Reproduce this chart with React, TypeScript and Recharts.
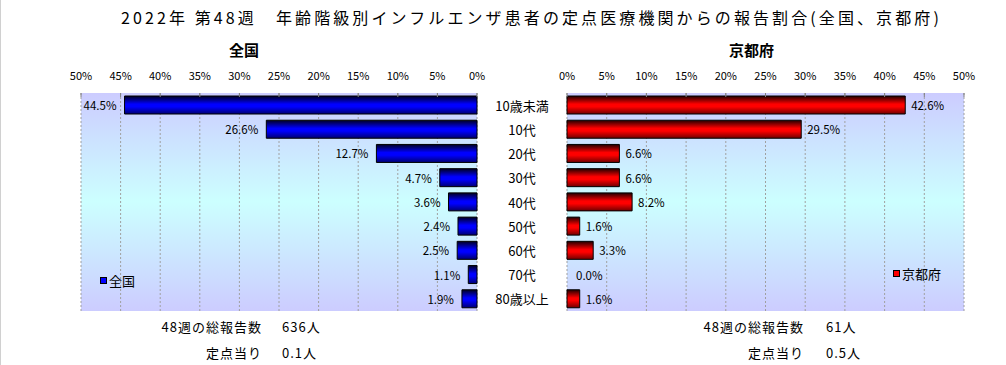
import { Bar, BarChart, CartesianGrid, LabelList, Legend, Rectangle, ReferenceArea, XAxis, YAxis } from "recharts"

const ageGroups = ["10歳未満", "10代", "20代", "30代", "40代", "50代", "60代", "70代", "80歳以上"]
const nationalShare = [44.5, 26.6, 12.7, 4.7, 3.6, 2.4, 2.5, 1.1, 1.9]
const kyotoShare = [42.6, 29.5, 6.6, 6.6, 8.2, 1.6, 3.3, 0.0, 1.6]
const percentTicks = [0, 5, 10, 15, 20, 25, 30, 35, 40, 45, 50]

const summaryLabels = ["48週の総報告数", "定点当り"]
const nationalSummary = ["636人", "0.1人"]
const kyotoSummary = ["61人", "0.5人"]

const data = ageGroups.map((age, i) => ({ age, national: nationalShare[i], kyoto: kyotoShare[i] }))

const FONT = '"Noto Sans CJK JP", "Noto Sans", sans-serif'

const CategoryTick = ({ x, y, payload }: any) => (
  <text x={x} y={y} textAnchor="middle" dominantBaseline="central" fontSize={13} fill="#000" fontFamily={FONT}>
    {payload.value}
  </text>
)

const LeftValueLabel = (props: any) => {
  const { x, y, width, height, value } = props
  const left = Math.min(Number(x), Number(x) + Number(width))
  return (
    <text x={left - 8} y={Number(y) + Number(height) / 2} textAnchor="end" dominantBaseline="central" fontSize={11.5} fill="#000" fontFamily={FONT}>
      {Number(value).toFixed(1)}%
    </text>
  )
}

const RightValueLabel = (props: any) => {
  const { x, y, width, height, value } = props
  const right = Math.max(Number(x), Number(x) + Number(width))
  const gap = Number(value) === 0 ? 8 : 6
  return (
    <text x={right + gap} y={Number(y) + Number(height) / 2} textAnchor="start" dominantBaseline="central" fontSize={11.5} fill="#000" fontFamily={FONT}>
      {Number(value).toFixed(1)}%
    </text>
  )
}

// zero-valued bars are kept (minPointSize) so their label shows, but drawn as nothing
const KyotoShape = (props: any) =>
  props.payload && props.payload.kyoto === 0 ? <g /> : <Rectangle {...props} />

const legendBox = (name: string, color: string) => () => (
  <div style={{ display: "flex", alignItems: "center", fontSize: 13, color: "#000", fontFamily: FONT, whiteSpace: "nowrap" }}>
    <span style={{ display: "inline-block", width: 5, height: 5, background: color, border: "1px solid #000", marginRight: 2 }} />
    {name}
  </div>
)

const Defs = () => (
  <defs>
    <linearGradient id="plotBg" x1="0" y1="0" x2="0" y2="1">
      <stop offset="0%" stopColor="#ccccff" />
      <stop offset="50%" stopColor="#ccffff" />
      <stop offset="100%" stopColor="#ccccff" />
    </linearGradient>
    <linearGradient id="blueBar" x1="0" y1="0" x2="0" y2="1">
      <stop offset="0%" stopColor="#000020" />
      <stop offset="45%" stopColor="#0000ff" />
      <stop offset="60%" stopColor="#0000ff" />
      <stop offset="100%" stopColor="#000070" />
    </linearGradient>
    <linearGradient id="redBar" x1="0" y1="0" x2="0" y2="1">
      <stop offset="0%" stopColor="#200000" />
      <stop offset="45%" stopColor="#ff0000" />
      <stop offset="60%" stopColor="#ff0000" />
      <stop offset="100%" stopColor="#700000" />
    </linearGradient>
  </defs>
)

const abs = (left: number, top: number) => ({ position: "absolute" as const, left, top, whiteSpace: "nowrap" as const, lineHeight: 1 })

export default function App() {
  return (
    <div style={{ position: "absolute", left: 0, top: 0, width: 1006, height: 365, background: "#fff", fontFamily: FONT, color: "#000", borderLeft: "1px solid #d0d0d0", boxSizing: "border-box" }}>
      <div style={{ ...abs(120, 9), fontSize: 16, letterSpacing: 3.1 }}>
        2022年 第48週　年齢階級別インフルエンザ患者の定点医療機関からの報告割合(全国、京都府)
      </div>
      <div style={{ ...abs(228, 42), fontSize: 15, fontWeight: "bold" }}>全国</div>
      <div style={{ ...abs(728, 42), fontSize: 15, fontWeight: "bold" }}>京都府</div>

      <div style={{ position: "absolute", left: 0, top: 0 }}>
        <BarChart width={566} height={365} data={data} layout="vertical" margin={{ top: 73, right: 0, bottom: 54, left: 80 }}>
          <Defs />
          <CartesianGrid horizontal={false} stroke="#a0a0a0" strokeDasharray="2 2" fill="url(#plotBg)" fillOpacity={1} />
          <XAxis
            type="number"
            domain={[0, 50]}
            ticks={percentTicks}
            reversed
            orientation="top"
            height={20}
            axisLine={false}
            tickLine={{ stroke: "#808080" }}
            tickSize={-4}
            tickMargin={17}
            tick={{ fill: "#000", fontSize: 11, fontFamily: FONT }}
            tickFormatter={(v) => `${v}%`}
          />
          <YAxis
            type="category"
            dataKey="age"
            orientation="right"
            width={90}
            interval={0}
            axisLine={false}
            tickLine={false}
            tickSize={0}
            tickMargin={45}
            tick={<CategoryTick />}
          />
          <Bar dataKey="national" name="全国" fill="url(#blueBar)" stroke="#000" strokeWidth={1} barSize={18} isAnimationActive={false}>
            <LabelList dataKey="national" content={<LeftValueLabel />} />
          </Bar>
          <ReferenceArea fill="none" stroke="#808080" strokeWidth={1} />
          <Legend
            align="center"
            verticalAlign="middle"
            content={legendBox("全国", "#0000ff")}
            wrapperStyle={{ position: "absolute", left: 99, top: 271, width: "auto", height: "auto" }}
          />
        </BarChart>
      </div>

      <div style={{ position: "absolute", left: 476, top: 0 }}>
        <BarChart width={530} height={365} data={data} layout="vertical" margin={{ top: 73, right: 43, bottom: 54, left: 90 }}>
          <Defs />
          <CartesianGrid horizontal={false} stroke="#a0a0a0" strokeDasharray="2 2" fill="url(#plotBg)" fillOpacity={1} />
          <XAxis
            type="number"
            domain={[0, 50]}
            ticks={percentTicks}
            orientation="top"
            height={20}
            axisLine={false}
            tickLine={{ stroke: "#808080" }}
            tickSize={-4}
            tickMargin={17}
            tick={{ fill: "#000", fontSize: 11, fontFamily: FONT }}
            tickFormatter={(v) => `${v}%`}
          />
          <YAxis type="category" dataKey="age" hide />
          <Bar
            dataKey="kyoto"
            name="京都府"
            fill="url(#redBar)"
            stroke="#000"
            strokeWidth={1}
            barSize={18}
            minPointSize={1}
            shape={<KyotoShape />}
            isAnimationActive={false}
          >
            <LabelList dataKey="kyoto" content={<RightValueLabel />} />
          </Bar>
          <ReferenceArea fill="none" stroke="#808080" strokeWidth={1} />
          <Legend
            align="center"
            verticalAlign="middle"
            content={legendBox("京都府", "#ff0000")}
            wrapperStyle={{ position: "absolute", left: 416, top: 264, width: "auto", height: "auto" }}
          />
        </BarChart>
      </div>

      {summaryLabels.map((label, i) => (
        <div key={`nl${i}`} style={{ position: "absolute", right: 1006 - 262, top: 320 + i * 26, fontSize: 13, letterSpacing: 1, lineHeight: 1, whiteSpace: "nowrap", textAlign: "right" }}>
          {label}
        </div>
      ))}
      {nationalSummary.map((v, i) => (
        <div key={`nv${i}`} style={{ ...abs(281, 320 + i * 26), fontSize: 13, letterSpacing: 1 }}>{v}</div>
      ))}
      {summaryLabels.map((label, i) => (
        <div key={`kl${i}`} style={{ position: "absolute", right: 1006 - 804, top: 320 + i * 26, fontSize: 13, letterSpacing: 1, lineHeight: 1, whiteSpace: "nowrap", textAlign: "right" }}>
          {label}
        </div>
      ))}
      {kyotoSummary.map((v, i) => (
        <div key={`kv${i}`} style={{ ...abs(825, 320 + i * 26), fontSize: 13, letterSpacing: 1 }}>{v}</div>
      ))}
    </div>
  )
}
